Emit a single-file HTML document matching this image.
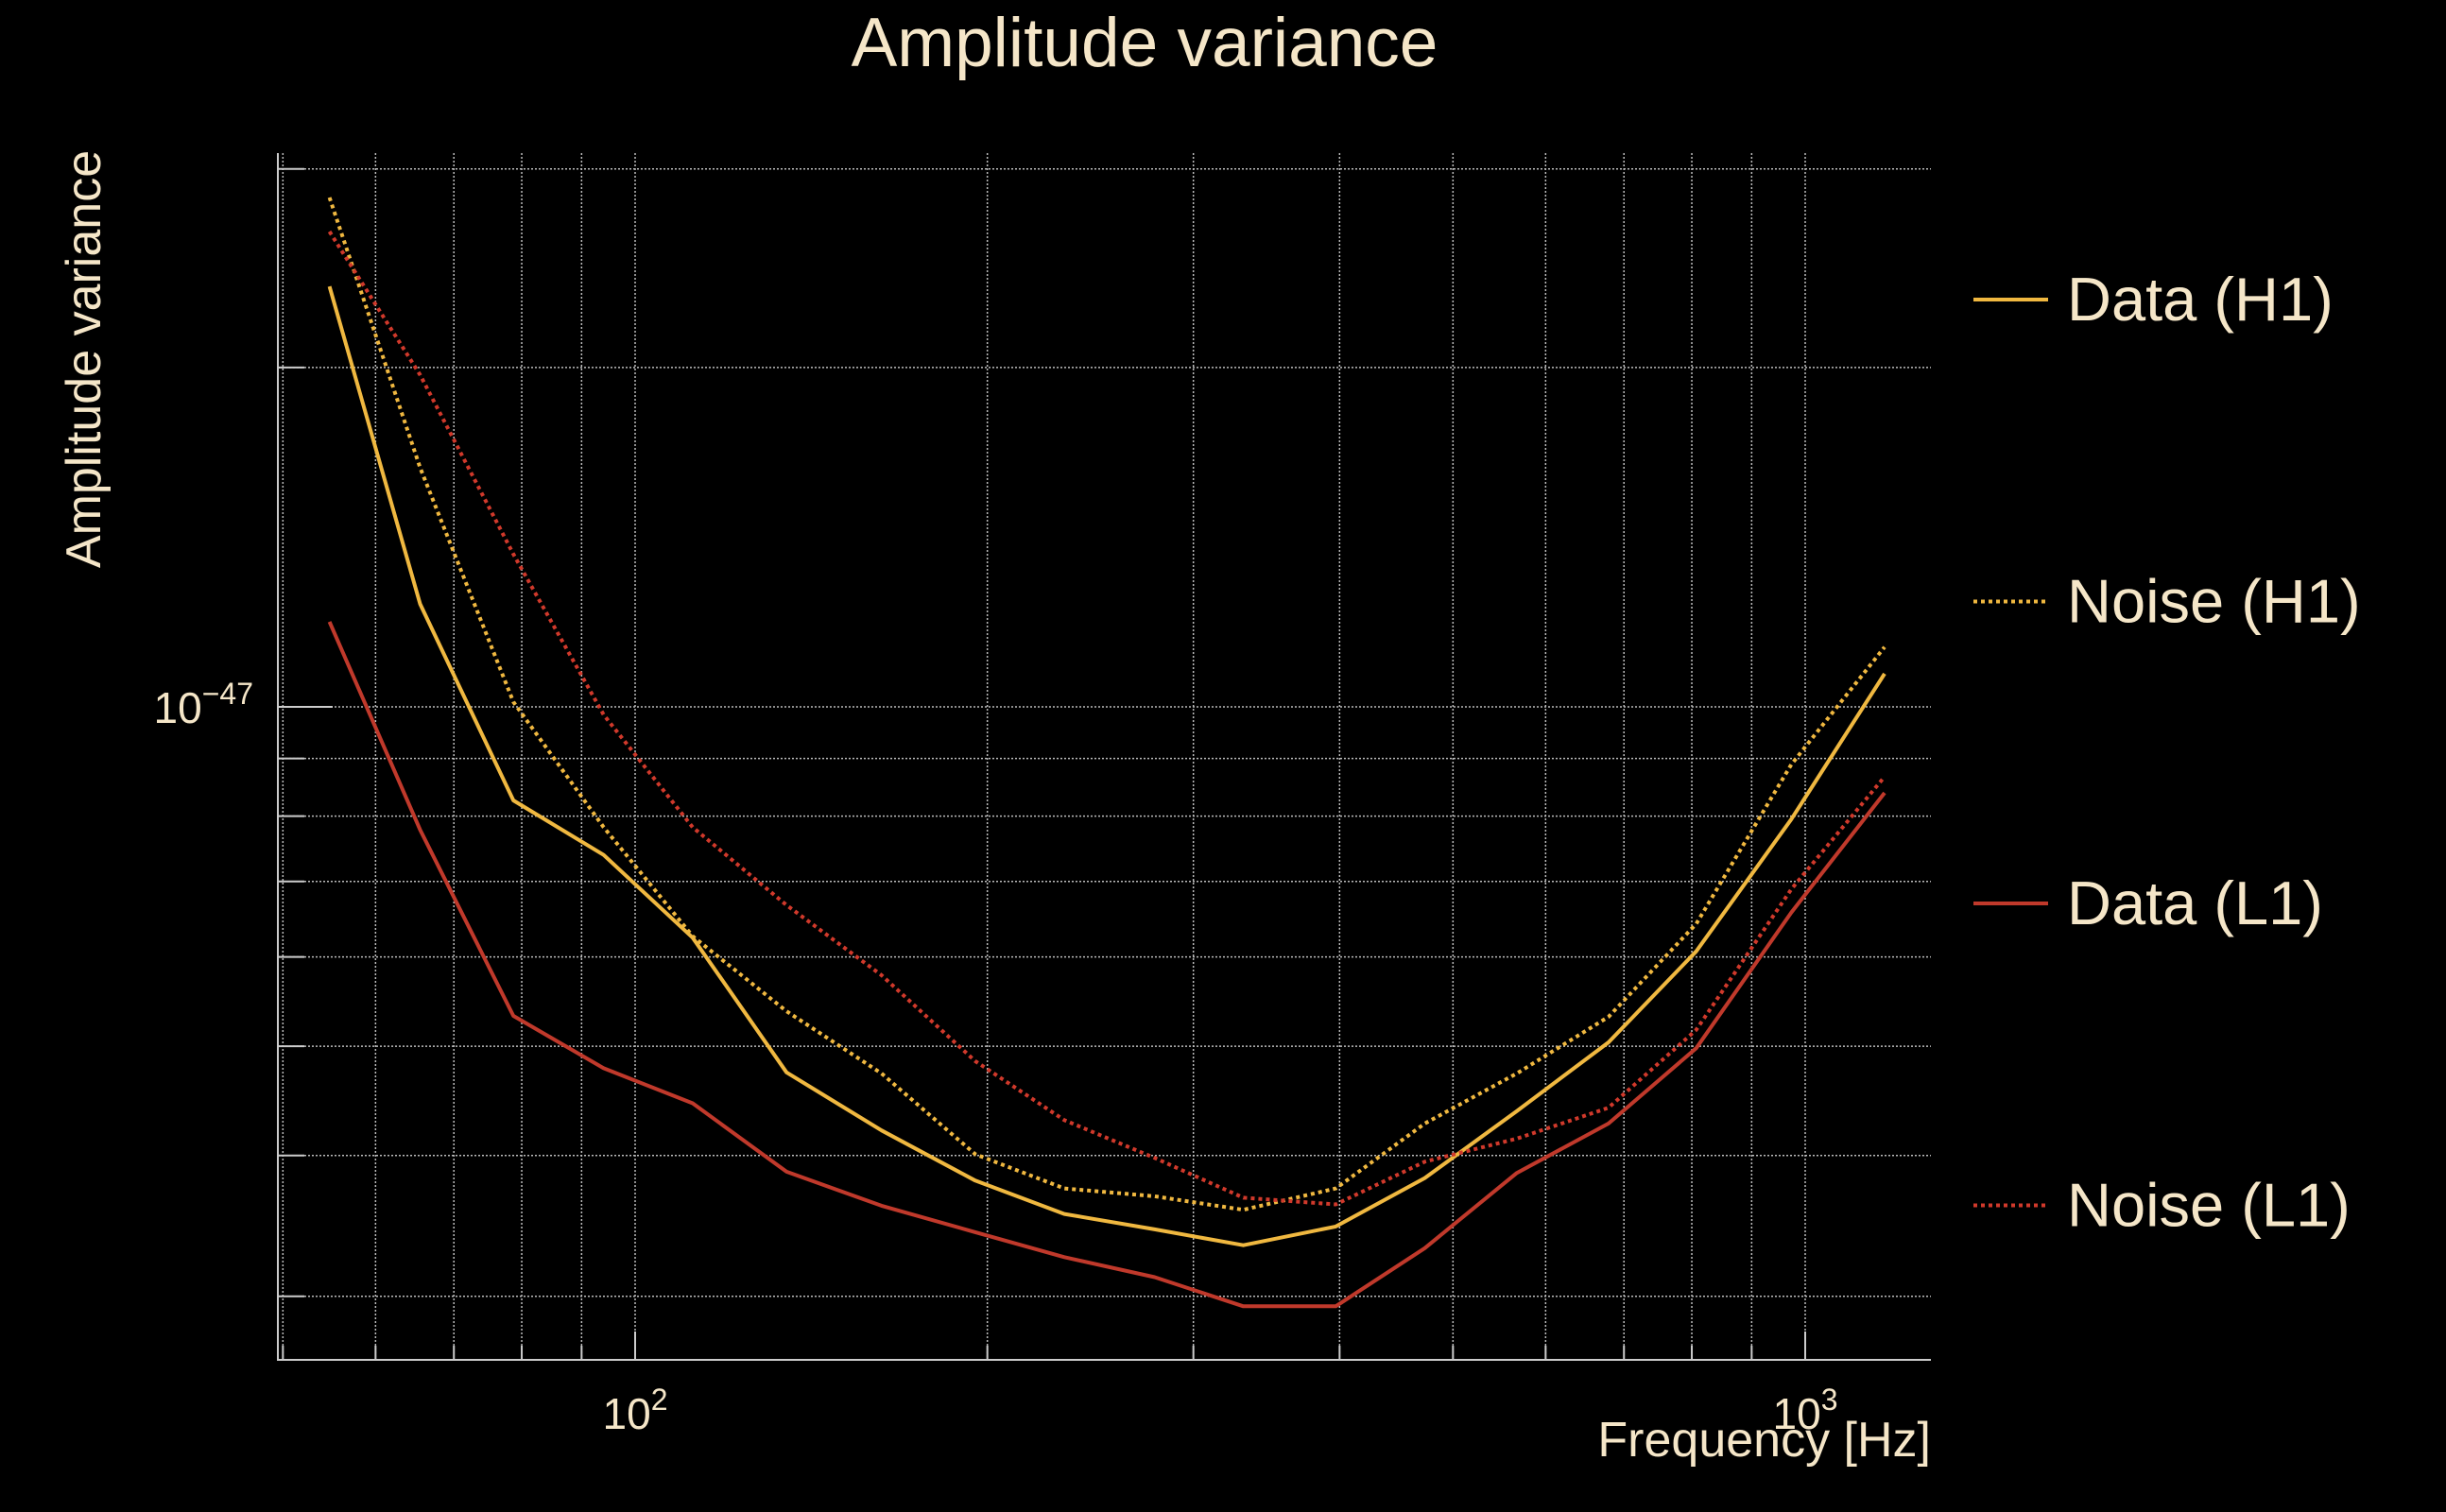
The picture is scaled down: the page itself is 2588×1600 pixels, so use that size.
<!DOCTYPE html>
<html><head><meta charset="utf-8"><style>
html,body{margin:0;padding:0;background:#000;}
svg{display:block;}
text{font-family:"Liberation Sans",sans-serif;fill:#f5e6c8;}
</style></head>
<body>
<svg id="chart" width="2588" height="1600" viewBox="0 0 2588 1600">
<rect x="0" y="0" width="2588" height="1600" fill="#000"/>
<g id="grid"></g>
<g id="axes"></g>
<g id="series"></g>
<text x="1211" y="70" font-size="73" text-anchor="middle">Amplitude variance</text>
<text transform="translate(106,380) rotate(-90)" font-size="52" text-anchor="middle">Amplitude variance</text>
<text x="2043" y="1541" font-size="52" text-anchor="end">Frequency [Hz]</text>
<g id="legend"></g>
</svg>
<script>
const freqs = [54.8, 65.5, 78.7, 94.0, 112, 134.7, 162.4, 195.3, 232.7, 278, 331, 397, 473, 567, 679, 807, 973, 1169];
const dataH1 = [2.36e-47, 1.234e-47, 8.26e-48, 7.39e-48, 6.24e-48, 4.74e-48, 4.21e-48, 3.80e-48, 3.55e-48, 3.44e-48, 3.33e-48, 3.46e-48, 3.82e-48, 4.38e-48, 5.04e-48, 6.07e-48, 7.95e-48, 1.07e-47];
const noiseH1 = [2.83e-47, 1.63e-47, 1.01e-47, 7.82e-48, 6.26e-48, 5.37e-48, 4.73e-48, 4.01e-48, 3.74e-48, 3.68e-48, 3.58e-48, 3.74e-48, 4.27e-48, 4.73e-48, 5.31e-48, 6.42e-48, 8.89e-48, 1.13e-47];
const dataL1 = [1.19e-47, 7.78e-48, 5.32e-48, 4.78e-48, 4.45e-48, 3.87e-48, 3.61e-48, 3.42e-48, 3.25e-48, 3.12e-48, 2.94e-48, 2.94e-48, 3.31e-48, 3.86e-48, 4.27e-48, 4.98e-48, 6.57e-48, 8.39e-48];
const noiseL1 = [2.64e-47, 1.97e-47, 1.366e-47, 9.84e-48, 7.82e-48, 6.67e-48, 5.78e-48, 4.85e-48, 4.30e-48, 3.98e-48, 3.67e-48, 3.62e-48, 3.95e-48, 4.14e-48, 4.41e-48, 5.17e-48, 6.89e-48, 8.67e-48];
const seriesNames = ["Data (H1)", "Noise (H1)", "Data (L1)", "Noise (L1)"];
const xGridTicks = [50,60,70,80,90,100,200,300,400,500,600,700,800,900,1000];
const yGridTicks = [3e-48,4e-48,5e-48,6e-48,7e-48,8e-48,9e-48,1e-47,2e-47,3e-47];

const NS="http://www.w3.org/2000/svg";
const L=294,R=2043,T=162,B=1439;
function xs(f){return 672+(Math.log10(f)-2)*1238;}
function ys(v){return 748-(Math.log10(v)+47)*1193;}
function mk(tag,attrs,parent){const e=document.createElementNS(NS,tag);for(const k in attrs)e.setAttribute(k,attrs[k]);parent.appendChild(e);return e;}
const grid=document.getElementById('grid'),axes=document.getElementById('axes'),ser=document.getElementById('series'),leg=document.getElementById('legend');
xGridTicks.forEach(f=>{
  const x=xs(f);
  const l=mk('line',{x1:x,x2:x,y1:T,y2:B,stroke:'#bbb','stroke-width':1.5,'stroke-dasharray':'2,2'},grid);
  
  
  const t=mk('line',{x1:x,x2:x,y1:B,y2:B-(f%10===0&&Math.log10(f)%1===0?30:15),stroke:'#ccc','stroke-width':2},axes);
  
  
});
yGridTicks.forEach(v=>{
  const y=ys(v);
  const l=mk('line',{x1:L,x2:R,y1:y,y2:y,stroke:'#bbb','stroke-width':1.5,'stroke-dasharray':'2,2'},grid);
  
  
  const t=mk('line',{x1:L,x2:L+(v===1e-47?58:28),y1:y,y2:y,stroke:'#ccc','stroke-width':2},axes);
  
  
});
const ax=mk('path',{d:`M${L},${T}V${B}H${R}`,fill:'none',stroke:'#ccc','stroke-width':2},axes);


function sup(x,y,base,exp,name,anchor){
  const t=mk('text',{x:x,y:y,'font-size':46,'text-anchor':anchor},axes);
  
  
  t.innerHTML=base+'<tspan dy="-20" font-size="32">'+exp+'</tspan>';
}
sup(268,ys(1e-47)+17,'10','−47','y-tick-label-1e-47','end');
sup(xs(100),1512,'10','2','x-tick-label-100','middle');
sup(xs(1000),1512,'10','3','x-tick-label-1000','middle');

const allSeries=[dataH1,noiseH1,dataL1,noiseL1];
const colors=['#f0b840','#f0b840','#c0392b','#d0392b'];
const dashes=[null,'4,4',null,'4,4'];
const keys=['data-h1','noise-h1','data-l1','noise-l1'];
allSeries.forEach((vals,i)=>{
  const d=vals.map((v,j)=>(j?'L':'M')+xs(freqs[j]).toFixed(1)+','+ys(v).toFixed(1)).join('');
  const a={d:d,fill:'none',stroke:colors[i],'stroke-width':4,'stroke-linejoin':'round'};
  if(dashes[i])a['stroke-dasharray']=dashes[i];
  const p=mk('path',a,ser);
  
  
  const ly=317+i*319.5;
  const g=mk('g',{},leg);
  
  
  const la={x1:2088,x2:2167,y1:ly,y2:ly,stroke:colors[i],'stroke-width':4};
  if(dashes[i])la['stroke-dasharray']=dashes[i];
  mk('line',la,g);
  const t=mk('text',{x:2187,y:ly+22,'font-size':65},g);
  t.textContent=seriesNames[i];
});
</script>
</body></html>
